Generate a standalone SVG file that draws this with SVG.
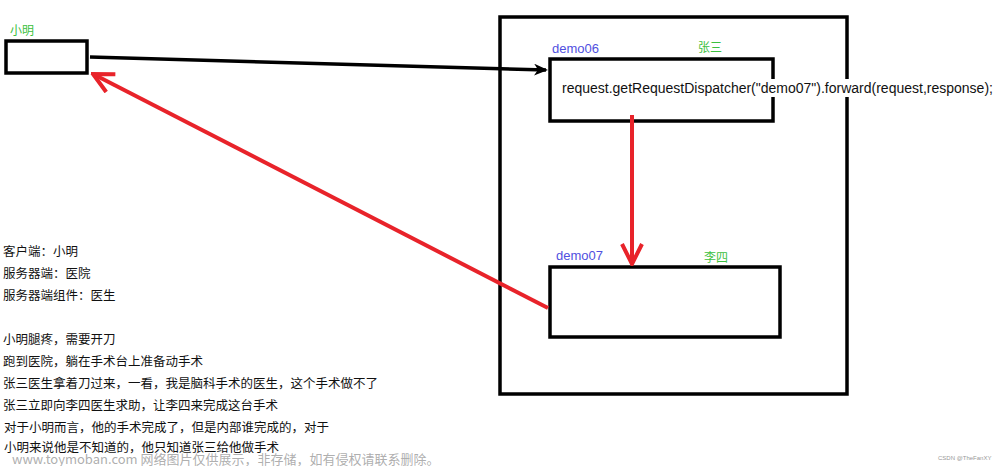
<svg xmlns="http://www.w3.org/2000/svg" width="1000" height="466" viewBox="0 0 1000 466">
<style>
.box{fill:none;stroke:#000;stroke-width:3.5}
.t{font-family:"Noto Sans CJK SC",sans-serif;font-size:12.5px;fill:#111}
.blue{font-family:"Liberation Sans",sans-serif;font-size:13px;fill:#5050e0}
.green{font-family:"Noto Sans CJK SC",sans-serif;font-size:12px;fill:#3cc040}
.red{stroke:#e8232a;stroke-width:4;fill:none}
</style>
<defs>
<marker id="ab" markerWidth="14" markerHeight="12" refX="12" refY="6" orient="auto" markerUnits="userSpaceOnUse"><path d="M0,0 L14,6 L0,12 L4,6 z" fill="#000"/></marker>
<marker id="ard" markerWidth="24" markerHeight="24" refX="22" refY="12" orient="auto" markerUnits="userSpaceOnUse"><path d="M2,2 L22,12 L2,22" fill="none" stroke="#e8232a" stroke-width="4"/></marker>
</defs>
<rect width="1000" height="466" fill="#fff"/>
<g id="server"><rect class="box" x="500" y="17" width="347" height="377"/></g>
<g id="xiaoming"><rect class="box" x="6" y="41" width="81" height="32"/><text class="green" x="10" y="35">小明</text></g>
<g id="demo06"><rect class="box" x="550" y="59" width="223" height="62"/><text class="blue" x="552" y="53">demo06</text><text class="green" x="698" y="52">张三</text>
<rect x="558" y="79" width="438" height="18" fill="#fff"/>
<text x="562" y="93" font-family="Liberation Sans,sans-serif" font-size="14" fill="#111">request.getRequestDispatcher("demo07").forward(request,response);</text></g>
<g id="demo07"><rect class="box" x="550" y="267" width="230" height="70"/><text class="blue" x="556" y="260">demo07</text><text class="green" x="704" y="262">李四</text></g>
<g id="connectors">
<line x1="90" y1="57" x2="546" y2="70" stroke="#000" stroke-width="3.5" marker-end="url(#ab)"/>
<line class="red" x1="632" y1="115" x2="632" y2="264" marker-end="url(#ard)"/>
<line class="red" x1="548" y1="308" x2="93" y2="74" marker-end="url(#ard)"/>
</g>
<g id="notes">
<text class="t" x="3" y="256">客户端：小明</text>
<text class="t" x="3" y="278">服务器端：医院</text>
<text class="t" x="3" y="300">服务器端组件：医生</text>
<text class="t" x="3" y="344">小明腿疼，需要开刀</text>
<text class="t" x="3" y="366">跑到医院，躺在手术台上准备动手术</text>
<text class="t" x="3" y="388">张三医生拿着刀过来，一看，我是脑科手术的医生，这个手术做不了</text>
<text class="t" x="3" y="410">张三立即向李四医生求助，让李四来完成这台手术</text>
<text class="t" x="4" y="432">对于小明而言，他的手术完成了，但是内部谁完成的，对于</text>
<text class="t" x="4" y="452">小明来说他是不知道的，他只知道张三给他做手术</text>
<text x="12" y="464" font-family="Noto Sans CJK SC,sans-serif" font-size="13" fill="#999" fill-opacity="0.8">www.toymoban.com 网络图片仅供展示，非存储，如有侵权请联系删除。</text>
<text x="938" y="460" font-family="Liberation Sans,sans-serif" font-size="6" fill="#999">CSDN @TheFanXY</text>
</g>
</svg>
